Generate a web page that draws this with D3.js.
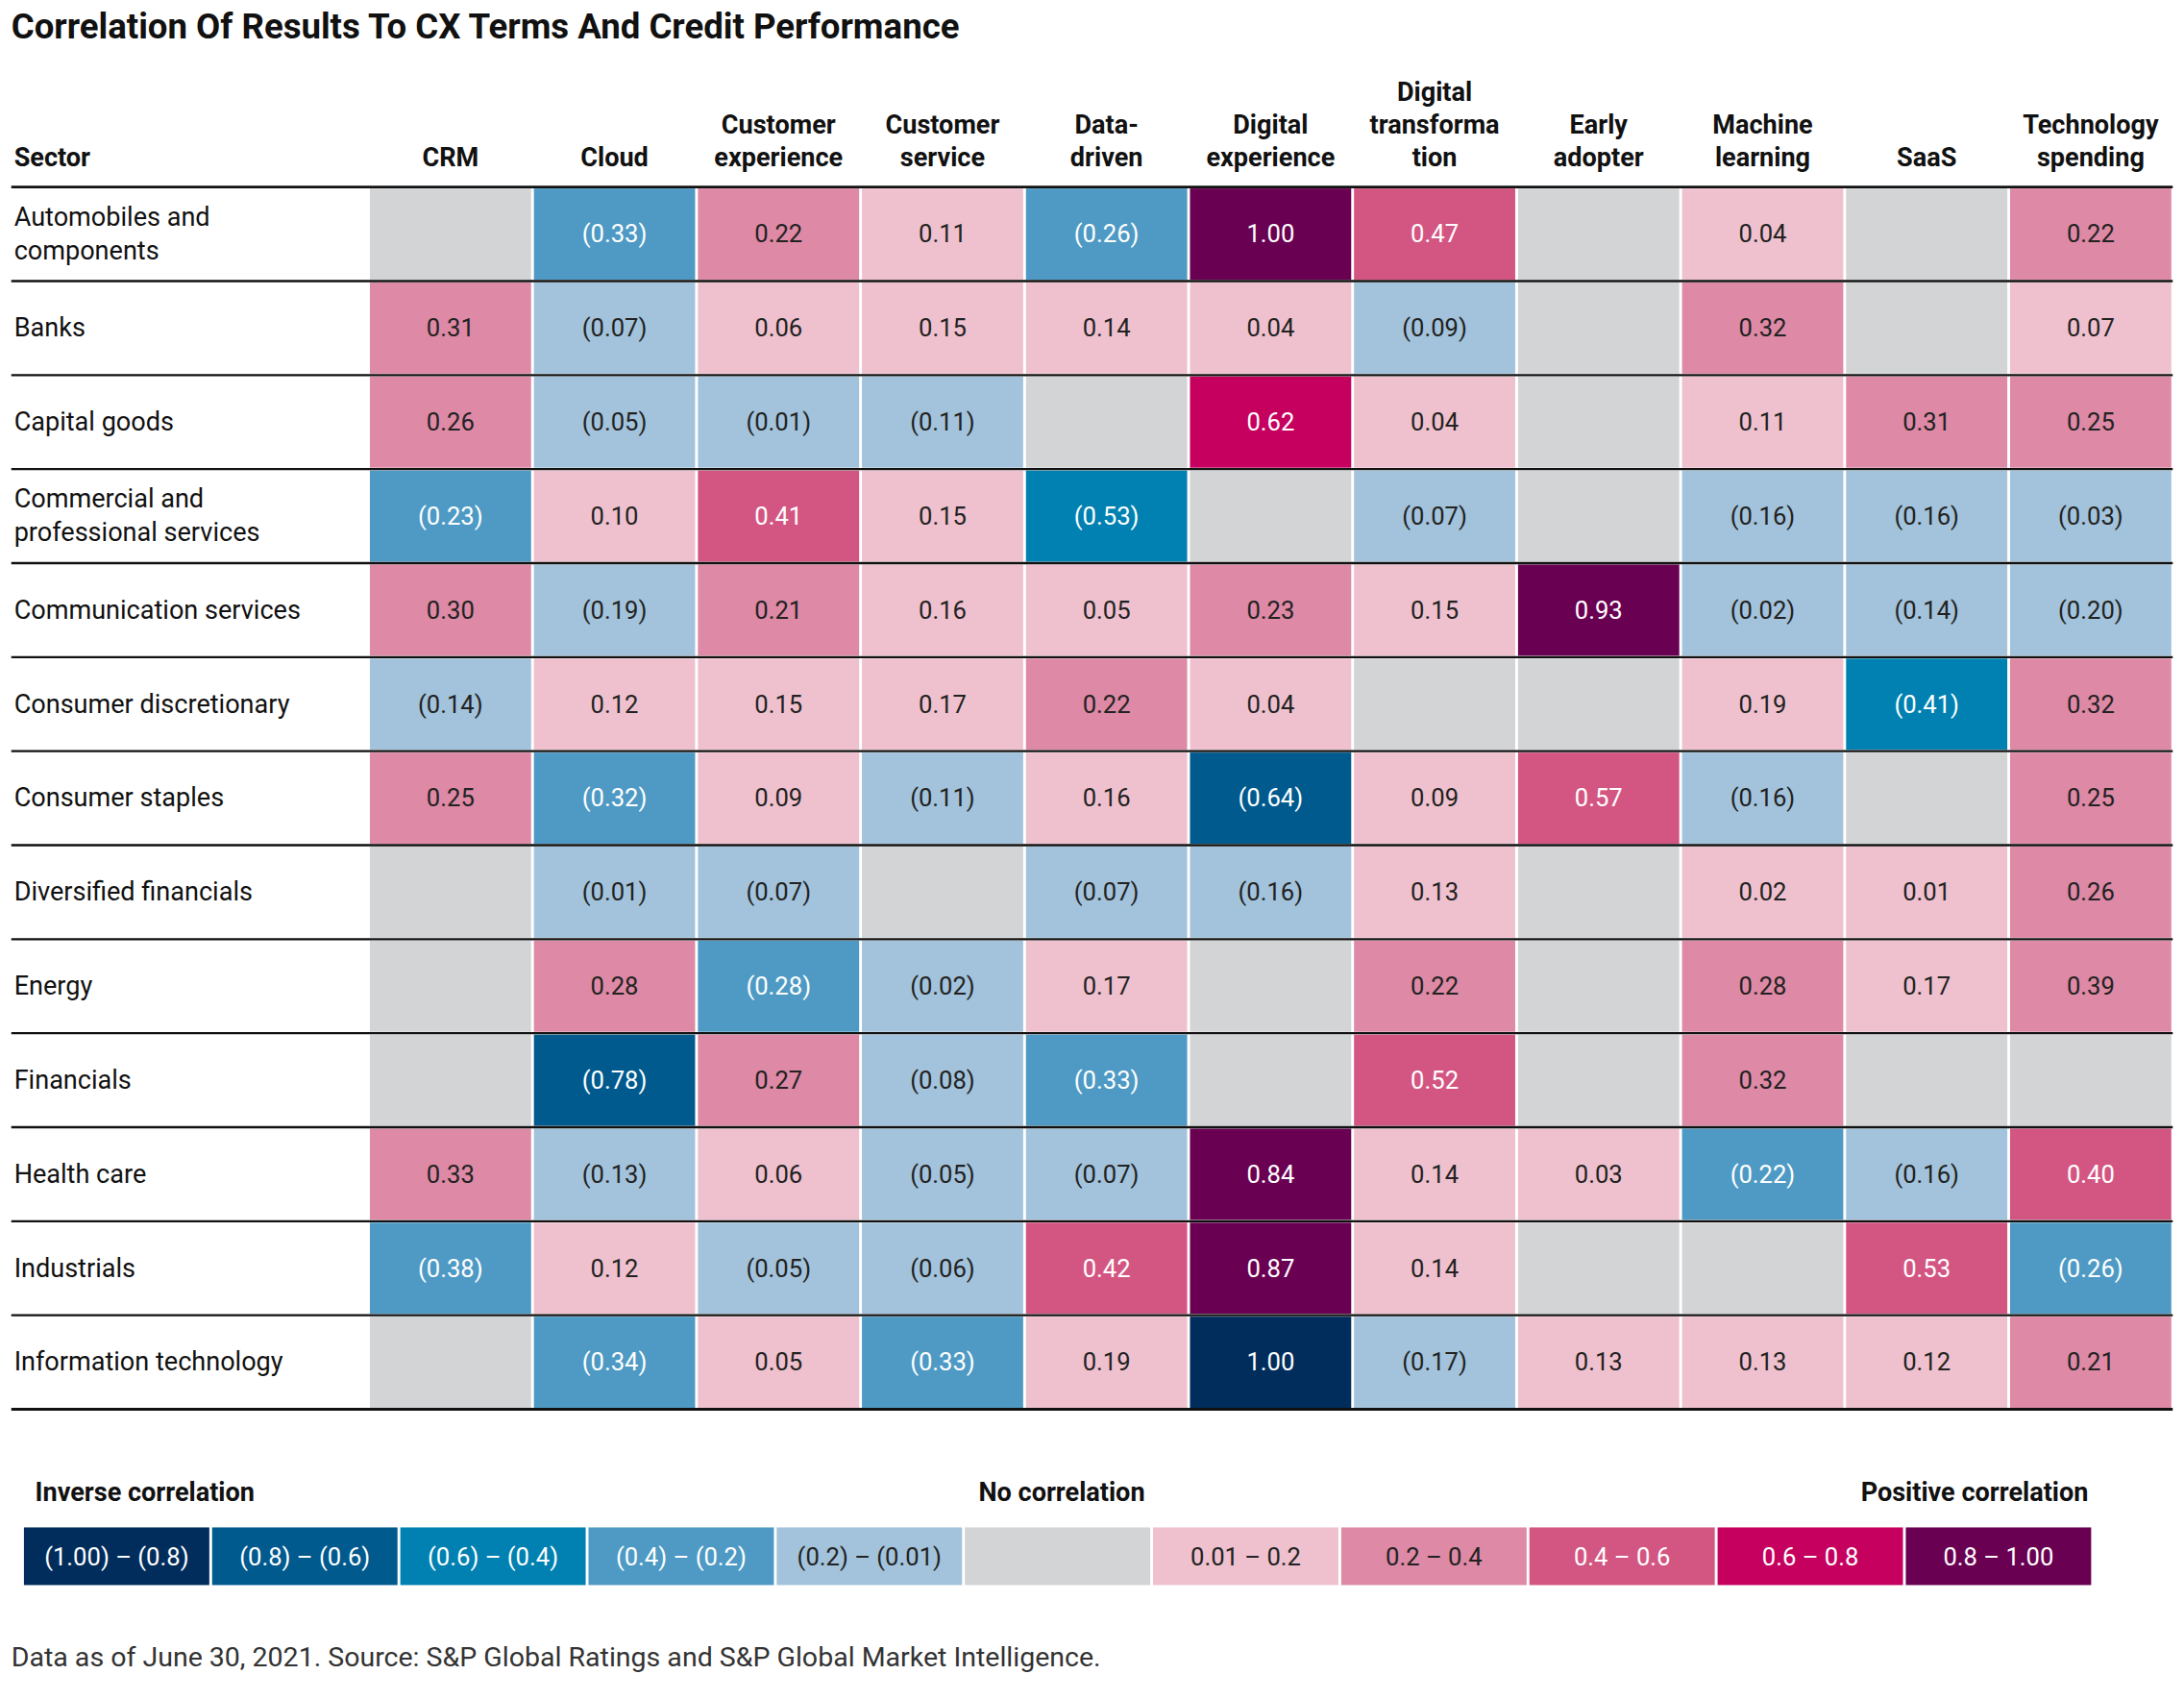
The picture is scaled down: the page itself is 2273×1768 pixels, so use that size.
<!DOCTYPE html>
<html><head><meta charset="utf-8">
<script src="https://cdn.jsdelivr.net/npm/d3@7"></script>
<style>body{margin:0;background:#fff}svg text{font-family:Roboto,"Open Sans",sans-serif}</style>
</head><body><svg id="c" width="2273" height="1768" viewBox="0 0 1553 1208"></svg>
<script>
const title = "Correlation Of Results To CX Terms And Credit Performance";
const columns = [["CRM"],["Cloud"],["Customer","experience"],["Customer","service"],["Data-","driven"],["Digital","experience"],["Digital","transforma","tion"],["Early","adopter"],["Machine","learning"],["SaaS"],["Technology","spending"]];
const sectors = [["Automobiles and","components"],["Banks"],["Capital goods"],["Commercial and","professional services"],["Communication services"],["Consumer discretionary"],["Consumer staples"],["Diversified financials"],["Energy"],["Financials"],["Health care"],["Industrials"],["Information technology"]];
const N = null;
const values = [
 [N,-0.33,0.22,0.11,-0.26,1.00,0.47,N,0.04,N,0.22],
 [0.31,-0.07,0.06,0.15,0.14,0.04,-0.09,N,0.32,N,0.07],
 [0.26,-0.05,-0.01,-0.11,N,0.62,0.04,N,0.11,0.31,0.25],
 [-0.23,0.10,0.41,0.15,-0.53,N,-0.07,N,-0.16,-0.16,-0.03],
 [0.30,-0.19,0.21,0.16,0.05,0.23,0.15,0.93,-0.02,-0.14,-0.20],
 [-0.14,0.12,0.15,0.17,0.22,0.04,N,N,0.19,-0.41,0.32],
 [0.25,-0.32,0.09,-0.11,0.16,-0.64,0.09,0.57,-0.16,N,0.25],
 [N,-0.01,-0.07,N,-0.07,-0.16,0.13,N,0.02,0.01,0.26],
 [N,0.28,-0.28,-0.02,0.17,N,0.22,N,0.28,0.17,0.39],
 [N,-0.78,0.27,-0.08,-0.33,N,0.52,N,0.32,N,N],
 [0.33,-0.13,0.06,-0.05,-0.07,0.84,0.14,0.03,-0.22,-0.16,0.40],
 [-0.38,0.12,-0.05,-0.06,0.42,0.87,0.14,N,N,0.53,-0.26],
 [N,-0.34,0.05,-0.33,0.19,1.00,-0.17,0.13,0.13,0.12,0.21]];
// colour-bin override as drawn in the original (IT / Digital experience shown in darkest inverse shade)
const binOverrides = [{r:12,c:5,bin:0}];
const legendLabels = ["(1.00) – (0.8)","(0.8) – (0.6)","(0.6) – (0.4)","(0.4) – (0.2)","(0.2) – (0.01)","","0.01 – 0.2","0.2 – 0.4","0.4 – 0.6","0.6 – 0.8","0.8 – 1.00"];
const binColors = ["#002d5c","#005a8e","#0081b1","#4e9ac4","#a2c3db","#d3d4d6","#efc1ce","#de89a5","#d35682","#c5005f","#690052"];
const thresholds = [-0.8,-0.6,-0.4,-0.2,0,0.00001,0.2,0.4,0.6,0.8];
const footer = "Data as of June 30, 2021. Source: S&P Global Ratings and S&P Global Market Intelligence.";

const svg = d3.select("#c");
const binOf = v => v===null?5:(v<0? d3.scaleThreshold().domain([-0.8,-0.6,-0.4,-0.2]).range([0,1,2,3,4])(v) : d3.scaleThreshold().domain([0.2,0.4,0.6,0.8]).range([6,7,8,9,10])(v));
const x = d3.scaleBand().domain(d3.range(columns.length)).range([262,1545]);
const y = d3.scaleBand().domain(d3.range(sectors.length)).range([133,1002]);
const fmt = v => v<0?`(${Math.abs(v).toFixed(2)})`:v.toFixed(2);

svg.append("text").attr("x",8).attr("y",27).attr("font-size",25).attr("font-weight",700).attr("fill","#111").text(title);
svg.append("text").attr("x",10).attr("y",118).attr("font-size",18.5).attr("font-weight",700).attr("fill","#111").text("Sector");
columns.forEach((lines,i)=>{
  const t=svg.append("text").attr("text-anchor","middle").attr("font-size",18.5).attr("font-weight",700).attr("fill","#111");
  lines.forEach((l,k)=>t.append("tspan").attr("x",x(i)+x.bandwidth()/2).attr("y",118-(lines.length-1-k)*23).text(l));
});
values.forEach((row,r)=>row.forEach((v,c)=>{
  const o=binOverrides.find(d=>d.r===r&&d.c===c);
  const b=o?o.bin:binOf(v);
  svg.append("rect").attr("x",x(c)+1).attr("y",y(r)+1).attr("width",x.bandwidth()-2).attr("height",y.bandwidth()-2).attr("fill",binColors[b]);
  if(v!==null) svg.append("text").attr("x",x(c)+x.bandwidth()/2).attr("y",y(r)+y.bandwidth()/2+6).attr("text-anchor","middle").attr("font-size",17.5)
    .attr("fill",(b<=3||b>=8)?"#fff":"#222").text(fmt(v));
}));
sectors.forEach((lines,r)=>{
  const t=svg.append("text").attr("font-size",18.5).attr("fill","#111");
  const cy=y(r)+y.bandwidth()/2+6;
  lines.forEach((l,k)=>t.append("tspan").attr("x",10).attr("y",cy+(k-(lines.length-1)/2)*24).text(l));
});
d3.range(sectors.length+1).forEach(r=>{
  const yy=r===sectors.length?1002:y(r);
  svg.append("line").attr("x1",8).attr("x2",1545).attr("y1",yy).attr("y2",yy).attr("stroke","#111").attr("stroke-width",r===0||r===sectors.length?2:1.6);
});
// legend
const lx=d3.scaleBand().domain(d3.range(legendLabels.length)).range([16,1488]);
legendLabels.forEach((l,i)=>{
  svg.append("rect").attr("x",lx(i)+1).attr("y",1086).attr("width",lx.bandwidth()-2).attr("height",41).attr("fill",binColors[i]);
  svg.append("text").attr("x",lx(i)+lx.bandwidth()/2).attr("y",1113).attr("text-anchor","middle").attr("font-size",17.5).attr("fill",(i<=3||i>=8)?"#fff":"#222").text(l);
});
svg.append("text").attr("x",25).attr("y",1067).attr("font-size",18.5).attr("font-weight",700).attr("fill","#111").text("Inverse correlation");
svg.append("text").attr("x",755).attr("y",1067).attr("text-anchor","middle").attr("font-size",18.5).attr("font-weight",700).attr("fill","#111").text("No correlation");
svg.append("text").attr("x",1485).attr("y",1067).attr("text-anchor","end").attr("font-size",18.5).attr("font-weight",700).attr("fill","#111").text("Positive correlation");
svg.append("text").attr("x",8).attr("y",1185).attr("font-size",19.5).attr("fill","#333").text(footer);
</script></body></html>
